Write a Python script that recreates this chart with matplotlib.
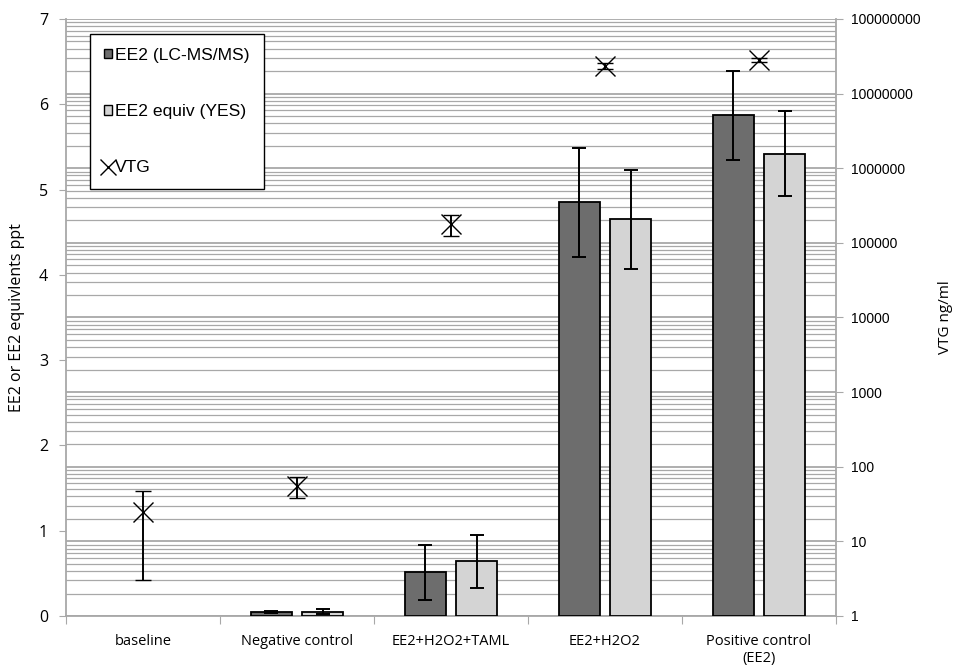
import numpy as np
import matplotlib
matplotlib.use("Agg")
import matplotlib.pyplot as plt
from matplotlib.patches import Patch
from matplotlib.lines import Line2D

# data
categories = ["baseline", "Negative control", "EE2+H2O2+TAML", "EE2+H2O2", "Positive control\n(EE2)"]
ee2_lcms = [0.0, 0.05, 0.51, 4.85, 5.87]
ee2_lcms_err = [0.0, 0.01, 0.32, 0.64, 0.52]
ee2_yes = [0.0, 0.05, 0.64, 4.65, 5.42]
ee2_yes_err = [0.0, 0.03, 0.31, 0.58, 0.50]
vtg = [25, 55, 180000, 23600000, 28400000]
vtg_err = [22, 17, 55000, 2000000, 2000000]

dark = "#6d6d6d"
light = "#d4d4d4"
grid_col = "#a8a8a8"

fig = plt.figure(figsize=(9.58, 6.71), dpi=100)
# log axis (VTG) is the base one so its gridlines sit behind the bars
ax = fig.add_axes([0.0689, 0.082, 0.8038, 0.8897])
axb = ax.twinx()

ax.set_yscale("log")
ax.set_ylim(1, 1e8)
ax.set_xlim(-0.5, 4.5)
ax.yaxis.tick_right()
ax.yaxis.set_label_position("right")
ax.set_yticks([10**k for k in range(9)])
ax.set_yticklabels([str(10**k) for k in range(9)], fontsize=10, family="Liberation Sans")
ax.yaxis.set_minor_formatter(plt.NullFormatter())
ax.tick_params(axis="y", which="major", length=5, color=grid_col, direction="out", pad=6)
ax.tick_params(axis="y", which="minor", length=0)
ax.grid(True, axis="y", which="major", color=grid_col, lw=1.3)
ax.grid(True, axis="y", which="minor", color=grid_col, lw=0.9)
ax.set_axisbelow(True)
ax.set_ylabel("VTG ng/ml", fontsize=11, family="Open Sans", labelpad=12)

x = np.arange(len(categories))
ax.errorbar(x, vtg, yerr=vtg_err, fmt="x", color="black", ms=15, mew=1.0,
            ecolor="black", elinewidth=1.4, capsize=6, capthick=1.4, zorder=5)

# category ticks: marks at boundaries, labels at centres
ax.set_xticks(np.arange(-0.5, 5, 1.0))
ax.set_xticklabels([])
ax.set_xticks(x, minor=True)
ax.set_xticklabels(categories, minor=True, fontsize=10.5, family="Open Sans")
ax.tick_params(axis="x", which="major", length=6, color=grid_col, direction="out")
ax.tick_params(axis="x", which="minor", length=0, pad=13)

ax.spines["top"].set_visible(False)
for s in ["left", "right", "bottom"]:
    ax.spines[s].set_color(grid_col)
    ax.spines[s].set_linewidth(1.3)

# linear axis for EE2 bars
axb.yaxis.tick_left()
axb.yaxis.set_label_position("left")
axb.set_ylim(0, 7)
axb.set_yticks(range(8))
axb.set_yticklabels([str(v) for v in range(8)], fontsize=11.5, family="Open Sans")
axb.tick_params(axis="y", length=5, color=grid_col, direction="out", pad=8)
axb.set_ylabel("EE2 or EE2 equivlents ppt", fontsize=11.5, family="Open Sans", labelpad=10)
for s in axb.spines.values():
    s.set_visible(False)

w = 0.27
off = 0.166
lw_a = [0 if v == 0 else 1.3 for v in ee2_lcms]
lw_b = [0 if v == 0 else 1.3 for v in ee2_yes]
axb.bar(x - off, ee2_lcms, w, color=dark, edgecolor="black", lw=lw_a, zorder=3)
axb.bar(x + off, ee2_yes, w, color=light, edgecolor="black", lw=lw_b, zorder=3)
mask = np.array(ee2_lcms) > 0
axb.errorbar(x[mask] - off, np.array(ee2_lcms)[mask], yerr=np.array(ee2_lcms_err)[mask],
             fmt="none", ecolor="black", elinewidth=1.4, capsize=5, capthick=1.4, zorder=4)
axb.errorbar(x[mask] + off, np.array(ee2_yes)[mask], yerr=np.array(ee2_yes_err)[mask],
             fmt="none", ecolor="black", elinewidth=1.4, capsize=5, capthick=1.4, zorder=4)

handles = [
    Patch(facecolor=dark, edgecolor="black", lw=1),
    Patch(facecolor=light, edgecolor="black", lw=1),
    Line2D([], [], marker="x", color="black", ls="none", ms=11, mew=1),
]
leg = axb.legend(handles, ["EE2 (LC-MS/MS)", "EE2 equiv (YES)", "VTG"],
                 loc="upper left", bbox_to_anchor=(0.031, 0.975), borderaxespad=0,
                 fancybox=False, edgecolor="black", framealpha=1,
                 prop={"family": "Liberation Sans", "size": 12.6},
                 labelspacing=2.35, handlelength=0.45, handleheight=0.45,
                 handletextpad=0.2, borderpad=0.8)
leg.get_frame().set_linewidth(1.0)
leg.set_zorder(10)

fig.savefig("out.png", dpi=100)
